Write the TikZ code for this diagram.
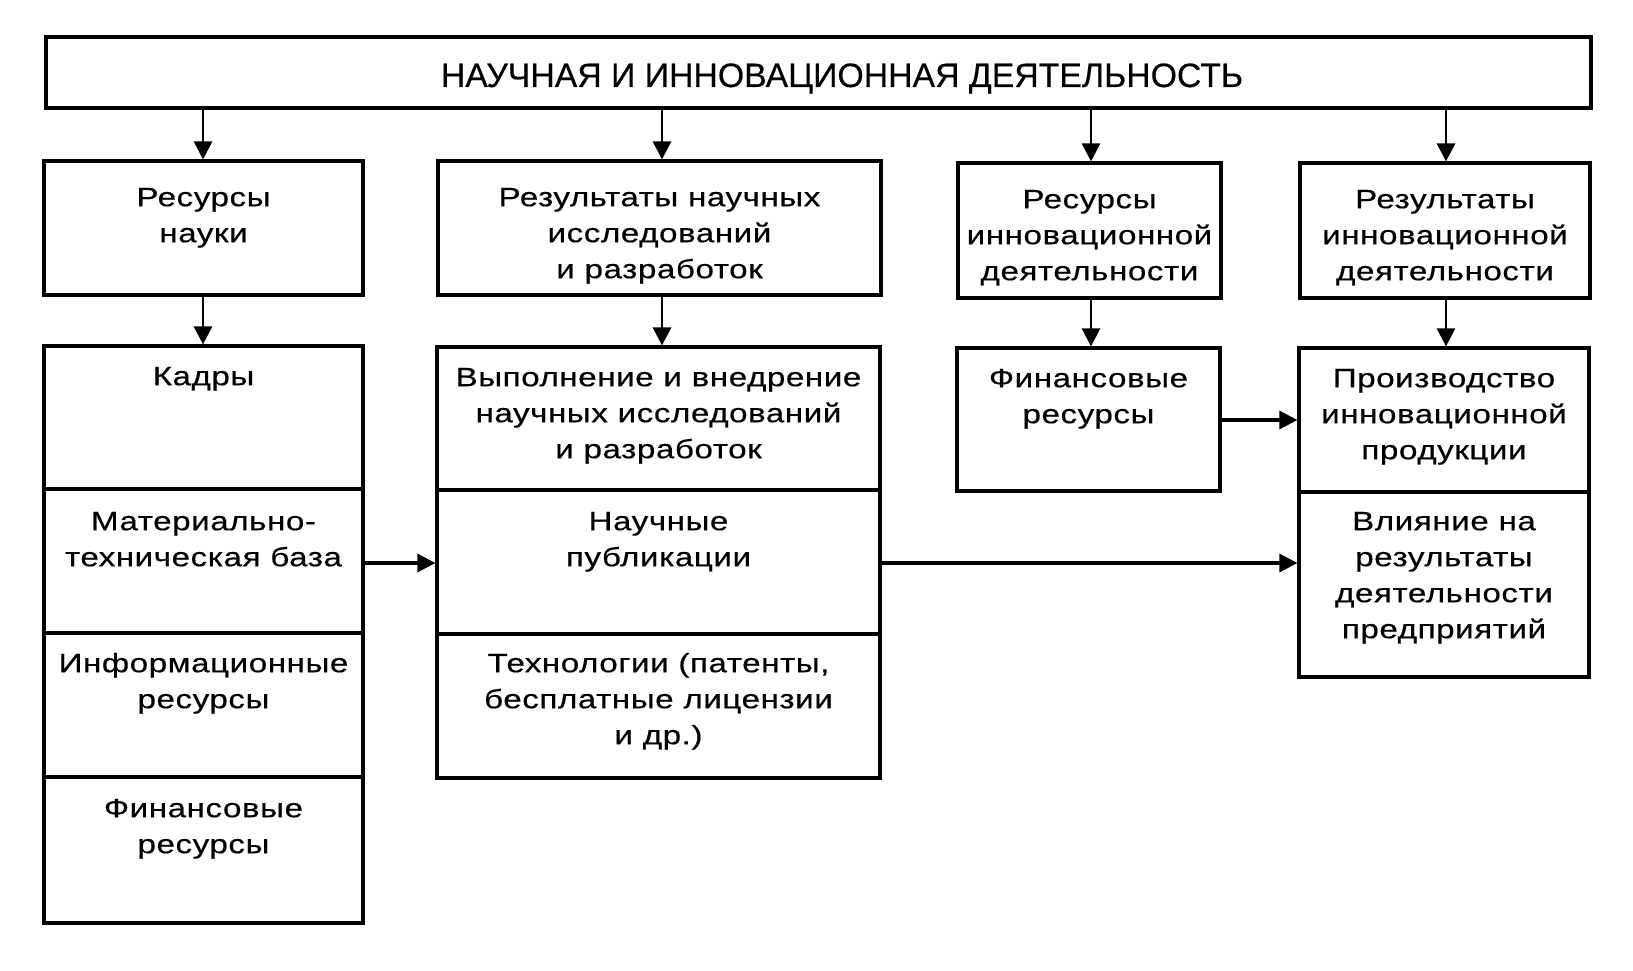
\documentclass[tikz,border=0pt]{standalone}
\usepackage{fontspec}
\setmainfont[FakeBold=0.3]{Liberation Sans}
\newfontfamily\boxfont[FakeStretch=1.25,LetterSpace=2.2,FakeBold=0.5]{Liberation Sans}
\usetikzlibrary{arrows.meta,fit}
\tikzset{
  box/.style={draw, line width=3.2pt, inner sep=0pt},
  txt/.style={align=center, inner sep=0pt, anchor=north, font=\boxfont\fontsize{26.5}{36}\selectfont},
  arr/.style={line width=2.9pt, -{Triangle[length=18pt,width=18pt]}},
  harr/.style={arr, line width=3.4pt},
}
\begin{document}
\begin{tikzpicture}[x=1pt,y=-1pt]
\useasboundingbox[fill=white] (0,0) rectangle (1633,971);
% top
\node[box, fit={(46,37)(1591,108)}] (top) {};
\node[inner sep=0pt, anchor=base, font=\fontsize{33.8}{40}\selectfont] (ttop) at (842,87) {НАУЧНАЯ И ИННОВАЦИОННАЯ ДЕЯТЕЛЬНОСТЬ};
% row 1
\node[box, fit={(44,161)(363,295)}] (ra) {};
\node[box, fit={(438,161)(881,295)}] (rb) {};
\node[box, fit={(958,163)(1221,298)}] (rc) {};
\node[box, fit={(1300,163)(1590,298)}] (rd) {};
\node[txt] (tra) at (ra.center |- 0,180.8) {\strut Ресурсы\\науки};
\node[txt] (trb) at (rb.center |- 0,180.8) {\strut Результаты научных\\исследований\\и разработок};
\node[txt] (trc) at (rc.center |- 0,182.8) {\strut Ресурсы\\инновационной\\деятельности};
\node[txt] (trd) at (rd.center |- 0,182.8) {\strut Результаты\\инновационной\\деятельности};
% column 1
\node[box, fit={(44,346)(363,489)}] (c1a) {};
\node[box, fit={(44,489)(363,633)}] (c1b) {};
\node[box, fit={(44,633)(363,777)}] (c1c) {};
\node[box, fit={(44,777)(363,923)}] (c1d) {};
\node[txt] (t1a) at (c1a.center |- 0,359.8) {\strut Кадры};
\node[txt] (t1b) at (c1b.center |- 0,504.8) {\strut Материально-\\техническая база};
\node[txt] (t1c) at (c1c.center |- 0,646.8) {\strut Информационные\\ресурсы};
\node[txt] (t1d) at (c1d.center |- 0,791.8) {\strut Финансовые\\ресурсы};
% column 2
\node[box, fit={(437,347)(880,490)}] (c2a) {};
\node[box, fit={(437,490)(880,634)}] (c2b) {};
\node[box, fit={(437,634)(880,778)}] (c2c) {};
\node[txt] (t2a) at (c2a.center |- 0,360.8) {\strut Выполнение и внедрение\\научных исследований\\и разработок};
\node[txt] (t2b) at (c2b.center |- 0,504.8) {\strut Научные\\публикации};
\node[txt] (t2c) at (c2c.center |- 0,646.8) {\strut Технологии (патенты,\\бесплатные лицензии\\и др.)};
% column 3
\node[box, fit={(957,348)(1220,491)}] (c3a) {};
\node[txt] (t3a) at (c3a.center |- 0,361.8) {\strut Финансовые\\ресурсы};
% column 4
\node[box, fit={(1299,348)(1589,492)}] (c4a) {};
\node[box, fit={(1299,492)(1589,677)}] (c4b) {};
\node[txt] (t4a) at (c4a.center |- 0,361.8) {\strut Производство\\инновационной\\продукции};
\node[txt] (t4b) at (c4b.center |- 0,504.8) {\strut Влияние на\\результаты\\деятельности\\предприятий};
% arrows
\draw[arr] (top.south -| 203,0) -- (ra.north -| 203,0);
\draw[arr] (top.south -| 662,0) -- (rb.north -| 662,0);
\draw[arr] (top.south -| 1091,0) -- (rc.north -| 1091,0);
\draw[arr] (top.south -| 1446,0) -- (rd.north -| 1446,0);
\draw[arr] (ra.south -| 203,0) -- (c1a.north -| 203,0);
\draw[arr] (rb.south -| 662,0) -- (c2a.north -| 662,0);
\draw[arr] (rc.south -| 1091,0) -- (c3a.north -| 1091,0);
\draw[arr] (rd.south -| 1446,0) -- (c4a.north -| 1446,0);
\draw[harr] (c1b.east |- 0,563) -- (c2b.west |- 0,563);
\draw[harr] (c2b.east |- 0,563) -- (c4b.west |- 0,563);
\draw[harr] (c3a.east |- 0,420) -- (c4a.west |- 0,420);
\end{tikzpicture}
\end{document}
